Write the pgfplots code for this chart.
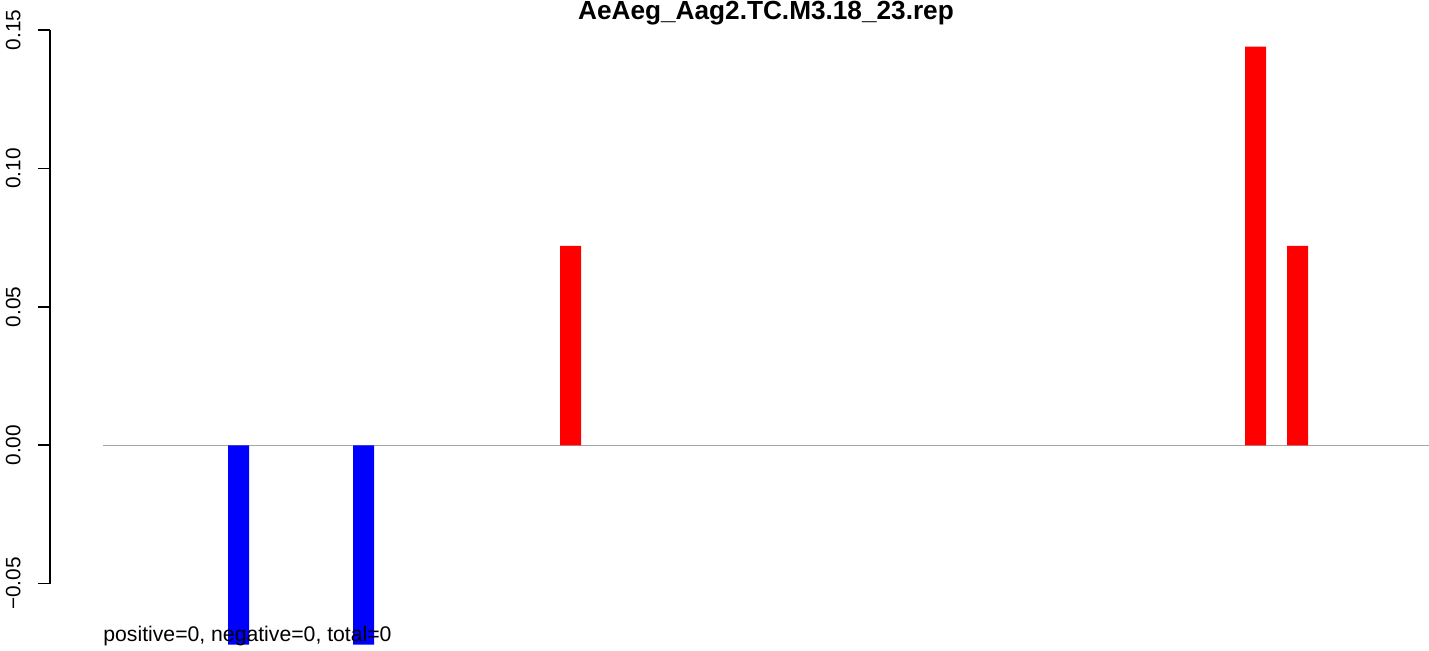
\documentclass[border=0pt]{standalone}
\usepackage{pgfplots}
\pgfplotsset{compat=1.18}
\usepackage{fontspec}
\setmainfont{Liberation Sans}
\definecolor{zline}{RGB}{166,166,166}
\begin{document}
\begin{tikzpicture}
\begin{axis}[
  scale only axis,
  width=689.5pt, height=276.85pt,
  xmin=50, xmax=1429,
  ymin=-0.05, ymax=0.15,
  clip=false,
  axis x line=none,
  axis y line=left,
  y axis line style={-, line width=0.8pt},
  ytick={-0.05,0,0.05,0.1,0.15},
  yticklabels={−0.05,0.00,0.05,0.10,0.15},
  tick align=outside,
  major tick length=6pt,
  tick style={line width=0.8pt, black},
  yticklabel style={rotate=90, anchor=south, inner sep=0pt, yshift=8.5pt, font=\fontsize{10.4}{12}\selectfont},
]
\addplot[color=zline, line width=0.75pt, no marks] coordinates {(103,0) (1429,0)};
\addplot[ybar, bar shift=0pt, bar width=10.5pt, fill=blue, draw=none] coordinates {(238.5,-0.072) (363.5,-0.072)};
\addplot[ybar, bar shift=0pt, bar width=10.5pt, fill=red, draw=none] coordinates {(570.5,0.072) (1255.5,0.144) (1297.5,0.072)};
\node[anchor=base, inner sep=0pt, font=\bfseries\fontsize{13.1}{15}\selectfont] at (axis cs:766,0.15361) {AeAeg\_Aag2.TC.M3.18\_23.rep};
\node[anchor=base west, inner sep=0pt, font=\fontsize{10.6}{12}\selectfont] at (axis cs:103,-0.07104) {positive=0, negative=0, total=0};
\coordinate (bl) at (axis cs:0,-0.0743);
\coordinate (tr) at (axis cs:1429,0.16083);
\end{axis}
\pgfresetboundingbox
\path (bl) rectangle (tr);
\end{tikzpicture}
\end{document}
